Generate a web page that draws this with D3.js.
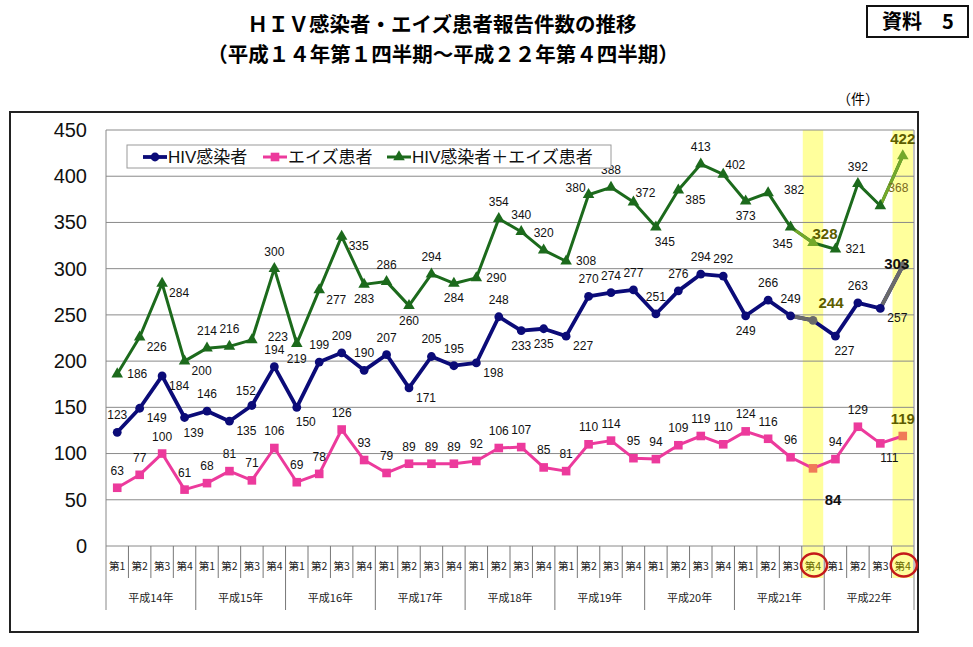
<!DOCTYPE html>
<html>
<head>
<meta charset="utf-8">
<script src="https://cdn.jsdelivr.net/npm/d3@7"></script>
<style>
  body { margin: 0; background: #fff; }
  text { font-family: "Liberation Sans", "Noto Sans CJK JP", sans-serif; }
  .jp { font-family: "Noto Sans CJK JP", sans-serif; }
</style>
</head>
<body>
<svg width="973" height="647"></svg>
<script>
// data (平成14年Q1 .. 平成22年Q4)
const years = ["平成14年", "平成15年", "平成16年", "平成17年", "平成18年", "平成19年", "平成20年", "平成21年", "平成22年"];
const quarters = ["第1", "第2", "第3", "第4"];
const hiv = [123, 149, 184, 139, 146, 135, 152, 194, 150, 199, 209, 190, 207, 171, 205, 195, 198, 248,
  233, 235, 227, 270, 274, 277, 251, 276, 294, 292, 249, 266, 249, 244, 227, 263, 257, 303];
const aids = [63, 77, 100, 61, 68, 81, 71, 106, 69, 78, 126, 93, 79, 89, 89, 89, 92, 106,
  107, 85, 81, 110, 114, 95, 94, 109, 119, 110, 124, 116, 96, 84, 94, 129, 111, 119];
const total = [186, 226, 284, 200, 214, 216, 223, 300, 219, 277, 335, 283, 286, 260, 294, 284, 290, 354,
  340, 320, 308, 380, 388, 372, 345, 385, 413, 402, 373, 382, 345, 328, 321, 392, 368, 422];
const yTicks = [0, 50, 100, 150, 200, 250, 300, 350, 400, 450];
const highlighted = [31, 35];

// label placement codes (layout only)
const offsets = { a: [0, -17], b: [0, 15], r: [20, 0], rb: [17, 10], ra: [12, -9], la: [-13, -7], al: [-6, -14],
  bl: [-8, 17], br: [9, 15], rr: [26, -3], raa: [18, -18], bbr: [20, 31], c: [-6, -2] };
const totalPos = ["r", "rb", "rb", "rb", "a", "a", "rr", "a", "b", "rb", "rb", "b", "a", "b", "a", "b", "r", "a",
  "a", "a", "r", "la", "a", "ra", "br", "rb", "a", "ra", "b", "rr", "bl", "ra", "r", "a", "raa", "a"];
const hivPos = ["a", "rb", "rb", "br", "a", "rb", "al", "a", "br", "a", "a", "a", "a", "rb", "a", "a", "rb", "a",
  "b", "b", "rb", "a", "a", "a", "a", "a", "a", "a", "b", "a", "a", "raa", "br", "a", "rb", "c"];
const aidsPos = aids.map((d, i) => i === 31 ? "bbr" : i === 34 ? "br" : "a");

const cats = [];
years.forEach(y => quarters.forEach(q => cats.push(y + q)));

const svg = d3.select("svg");
const plotLeft = 106, plotRight = 914, plotTop = 130, plotBottom = 546;

const x = d3.scaleBand().domain(d3.range(cats.length)).range([plotLeft, plotRight]);
const y = d3.scaleLinear().domain([0, 450]).range([plotBottom, plotTop]);
const cx = i => x(i) + x.bandwidth() / 2;

// outer frame
svg.append("rect").attr("x", 10).attr("y", 112).attr("width", 908).attr("height", 520)
  .attr("fill", "#fff").attr("stroke", "#222").attr("stroke-width", 2);

// titles
svg.append("text").attr("class", "jp").attr("x", 442).attr("y", 32).attr("text-anchor", "middle")
  .attr("font-size", 20.5).attr("font-weight", "bold").text("ＨＩＶ感染者・エイズ患者報告件数の推移");
svg.append("text").attr("class", "jp").attr("x", 443).attr("y", 61.5).attr("text-anchor", "middle")
  .attr("font-size", 20.5).attr("font-weight", "bold").text("（平成１４年第１四半期～平成２２年第４四半期）");

svg.append("rect").attr("x", 867).attr("y", 6).attr("width", 101).attr("height", 31)
  .attr("fill", "#fff").attr("stroke", "#111").attr("stroke-width", 2);
svg.append("text").attr("class", "jp").attr("x", 918).attr("y", 29).attr("text-anchor", "middle")
  .attr("font-size", 20).attr("font-weight", "bold").text("資料　5");
svg.append("text").attr("class", "jp").attr("x", 858).attr("y", 104).attr("text-anchor", "middle")
  .attr("font-size", 14).text("（件）");

// yellow highlight columns
svg.selectAll("rect.hl").data(highlighted).enter().append("rect")
  .attr("class", "hl")
  .attr("x", d => x(d) + 1).attr("width", x.bandwidth() - 2)
  .attr("y", plotTop).attr("height", 578 - plotTop)
  .attr("fill", "#ffff9c");

// gridlines
svg.append("g").selectAll("line").data(yTicks).enter().append("line")
  .attr("x1", plotLeft).attr("x2", plotRight)
  .attr("y1", d => y(d)).attr("y2", d => y(d))
  .attr("stroke", "#8a8a8a").attr("stroke-width", 1);
svg.append("line").attr("x1", plotLeft).attr("x2", plotLeft).attr("y1", plotTop).attr("y2", 610).attr("stroke", "#888");
svg.append("line").attr("x1", plotRight).attr("x2", plotRight).attr("y1", plotTop).attr("y2", 610).attr("stroke", "#888");

// y axis labels
const yAxis = svg.append("g").attr("transform", `translate(${plotLeft},0)`)
  .call(d3.axisLeft(y).tickValues(yTicks).tickSize(0).tickPadding(19));
yAxis.select(".domain").remove();
yAxis.selectAll("text").attr("font-size", 20).attr("fill", "#111")
  .style("font-family", "'Liberation Sans', sans-serif");

// category axis: quarter ticks and year ticks
svg.append("g").selectAll("line").data(d3.range(1, cats.length)).enter().append("line")
  .attr("x1", d => x(d)).attr("x2", d => x(d))
  .attr("y1", plotBottom).attr("y2", d => d % 4 === 0 ? 610 : 578)
  .attr("stroke", "#777");

svg.append("g").selectAll("text").data(cats).enter().append("text")
  .attr("class", "jp")
  .attr("x", (d, i) => cx(i)).attr("y", 565)
  .attr("text-anchor", "middle").attr("dominant-baseline", "central")
  .attr("font-size", 10.5)
  .attr("fill", (d, i) => highlighted.includes(i) ? "#6b6b00" : "#222")
  .text((d, i) => quarters[i % 4]);

svg.append("g").selectAll("text").data(years).enter().append("text")
  .attr("class", "jp")
  .attr("x", (d, i) => (x(i * 4) + x(i * 4 + 3) + x.bandwidth()) / 2).attr("y", 597)
  .attr("text-anchor", "middle").attr("dominant-baseline", "central")
  .attr("font-size", 11).attr("fill", "#222")
  .text(d => d);

// red circles around the highlighted quarter labels
svg.selectAll("ellipse.mark").data(highlighted).enter().append("ellipse")
  .attr("class", "mark")
  .attr("cx", d => cx(d) + 1).attr("cy", 565).attr("rx", 13).attr("ry", 11.5)
  .attr("fill", "none").attr("stroke", "#c41a1a").attr("stroke-width", 2.5);

// series
const series = [
  { name: "HIV感染者", values: hiv, color: "#0b0b78", hiColor: "#6a6a6a", hiLine: true, width: 3.8, shape: "circle", pos: hivPos },
  { name: "エイズ患者", values: aids, color: "#ec3a9c", hiColor: "#f07a58", hiLine: false, width: 3, shape: "square", pos: aidsPos },
  { name: "HIV感染者＋エイズ患者", values: total, color: "#1c6a1c", hiColor: "#74a82a", hiLine: true, width: 3, shape: "triangle", pos: totalPos }
];

const line = d3.line().x((d, i) => cx(i)).y(d => y(d));

function marker(g, shape, color) {
  if (shape === "circle") {
    g.append("circle").attr("r", 4.4).attr("fill", color);
  } else if (shape === "square") {
    g.append("rect").attr("x", -4.3).attr("y", -4.3).attr("width", 8.6).attr("height", 8.6).attr("fill", color);
  } else {
    g.append("path").attr("d", d3.symbol(d3.symbolTriangle, 58)()).attr("fill", color);
  }
}

series.forEach(s => {
  const g = svg.append("g");
  g.append("path").datum(s.values).attr("d", line)
    .attr("fill", "none").attr("stroke", s.color).attr("stroke-width", s.width)
    .attr("stroke-linejoin", "round");
  if (s.hiLine) {
    highlighted.forEach(h => {
      g.append("line")
        .attr("x1", cx(h - 1)).attr("y1", y(s.values[h - 1]))
        .attr("x2", cx(h)).attr("y2", y(s.values[h]))
        .attr("stroke", s.hiColor).attr("stroke-width", s.width).attr("stroke-linecap", "round");
    });
  }
  s.values.forEach((v, i) => {
    const m = g.append("g").attr("transform", `translate(${cx(i)},${y(v)})`);
    marker(m, s.shape, highlighted.includes(i) ? s.hiColor : s.color);
  });
});

// data labels
const boldColor = {
  "HIV感染者": { 31: "#5c5c00", 35: "#111" },
  "エイズ患者": { 31: "#111", 35: "#5c5c00" },
  "HIV感染者＋エイズ患者": { 31: "#5c5c00", 35: "#5c5c00" }
};
series.forEach(s => {
  svg.append("g").selectAll("text").data(s.values).enter().append("text")
    .attr("x", (d, i) => cx(i) + offsets[s.pos[i]][0])
    .attr("y", (d, i) => y(d) + offsets[s.pos[i]][1])
    .attr("text-anchor", "middle").attr("dominant-baseline", "central")
    .attr("font-size", (d, i) => highlighted.includes(i) ? 15 : 12)
    .attr("font-weight", (d, i) => highlighted.includes(i) ? "bold" : "normal")
    .attr("fill", (d, i) => highlighted.includes(i) ? boldColor[s.name][i]
      : (s.name === "HIV感染者＋エイズ患者" && i === 34 ? "#7a6a20" : "#111"))
    .text(d => d);
});

// legend
const legend = svg.append("g");
legend.append("rect").attr("x", 127).attr("y", 145).attr("width", 484).attr("height", 23)
  .attr("fill", "#fff").attr("stroke", "#9a9a9a");
const legendX = [143, 263, 387];
series.forEach((s, i) => {
  const row = legend.append("g").attr("transform", `translate(${legendX[i]},157)`);
  row.append("line").attr("x1", 0).attr("x2", 24).attr("stroke", s.color).attr("stroke-width", s.width);
  marker(row.append("g").attr("transform", "translate(12,0)"), s.shape, s.color);
  row.append("text").attr("x", 25).attr("y", 0).attr("dominant-baseline", "central")
    .attr("font-size", 17).attr("fill", "#111").text(s.name);
});
</script>
</body>
</html>
